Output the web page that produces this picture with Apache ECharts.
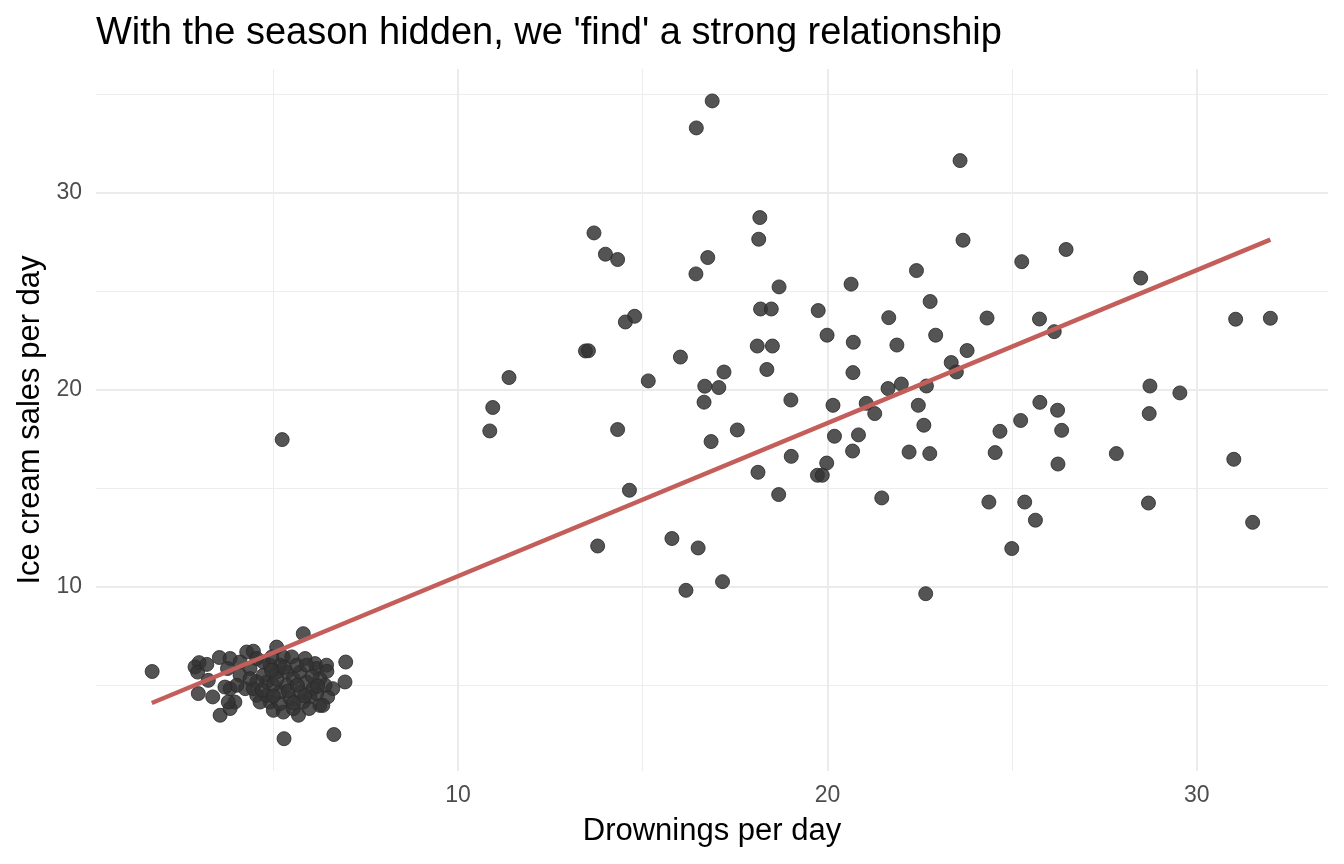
<!DOCTYPE html>
<html>
<head>
<meta charset="utf-8">
<title>Drownings vs ice cream</title>
<script src="https://cdn.jsdelivr.net/npm/echarts@6/dist/echarts.min.js"></script>
<style>
  html, body { margin: 0; padding: 0; background: #fff; }
  #main { width: 1344px; height: 864px; }
</style>
</head>
<body>
<div id="main"></div>
<script>
// warm days
var summerX = [16.88,16.45,18.17,18.14,13.68,13.99,14.32,16.76,16.44,18.69,18.19,18.48,19.75,14.78,14.53,18.10,18.51,13.45,13.53,16.02,
  18.36,17.20,11.38,15.15,16.68,17.06,19.01,16.66,10.94,10.86,14.32,17.56,16.85,19.02,18.12,19.73,18.68,14.64,13.78,15.79,
  16.50,17.16,16.17,23.59,23.67,25.26,22.41,20.64,22.78,21.66,24.32,25.74,19.99,22.93,20.70,21.88,23.78,23.35,23.49,20.69,
  22.68,22.00,21.64,20.15,21.05,22.46,21.28,25.75,25.23,22.61,20.19,20.84,24.67,22.21,22.77,20.68,24.54,19.98,19.86,21.47,
  24.37,25.34,25.63,24.99,22.66,26.46,28.48,26.14,31.05,31.99,28.73,29.54,26.23,26.34,28.71,27.82,26.24,31.00,28.69,31.51];
var summerY = [34.65,33.28,28.73,27.63,27.95,26.87,26.60,26.70,25.87,25.21,24.09,24.09,24.01,23.72,23.43,22.21,22.21,21.96,21.97,21.65,
  21.02,20.89,20.61,20.44,20.17,20.10,19.47,19.36,19.09,17.90,17.97,17.95,17.36,16.61,15.80,15.65,14.67,14.89,12.06,12.44,
  11.96,10.25,9.81,31.62,27.58,26.49,26.04,25.35,24.47,23.65,23.63,23.58,22.76,22.76,22.40,22.26,21.98,21.37,20.89,20.86,
  20.18,20.28,20.05,19.20,19.30,19.20,18.78,19.35,18.43,18.19,17.63,17.70,17.88,16.83,16.75,16.88,16.80,16.27,15.65,14.50,
  14.29,14.29,13.37,11.93,9.64,27.11,25.66,22.94,23.57,23.62,20.18,19.83,18.95,17.93,18.78,16.75,16.22,16.46,14.24,13.26];

// cold days
var winterX = [5.24,1.72,2.99,2.88,2.95,3.24,2.97,3.36,3.56,3.54,3.83,3.76,3.83,3.96,3.83,4.28,4.46,4.10,4.37,4.10,
  4.24,4.55,4.82,4.91,5.00,5.09,5.27,5.50,5.81,5.86,6.13,6.17,6.96,6.94,6.61,6.47,6.26,5.68,5.27,5.29,
  6.64,5.36,5.54,5.72,5.90,6.08,5.99,5.72,5.45,5.18,5.00,4.73,4.55,4.46,4.64,5.09,5.18,4.91,4.73,4.55,
  4.96,6.26,6.40,6.17,5.81,5.54,5.18,4.82,5.36,5.63,5.90,4.01,3.69,4.37,6.44,6.34,5.97,3.78,5.40,5.65,
  5.85,6.05,5.10,4.95,5.55,6.20,4.70,5.30,3.20,6.45,5.00];
var winterY = [17.46,5.69,6.14,5.92,5.66,5.24,4.57,4.40,3.47,6.40,6.35,5.84,4.82,4.14,3.81,6.68,6.72,6.17,5.84,5.50,
  4.82,4.48,5.16,4.14,3.72,6.93,6.43,6.43,7.61,6.35,6.09,5.84,6.17,5.16,4.82,4.40,3.97,3.47,3.63,2.28,
  2.49,5.66,5.33,5.66,5.16,4.82,4.40,4.65,4.31,4.65,4.99,5.50,5.16,4.82,4.14,5.66,6.01,6.01,6.17,6.35,
  6.43,5.33,4.99,4.57,4.14,3.81,4.06,4.48,4.99,6.01,6.01,4.99,4.90,5.33,6.01,3.97,3.81,4.14,4.70,5.00,
  4.45,5.45,5.30,5.75,4.10,4.95,4.75,5.90,6.05,5.70,4.45];

// fitted line ends
var fitX = [1.71, 31.99];
var fitY = [4.09, 27.61];

var majorX = [10, 20, 30];
var minorX = [5, 15, 25];
var majorY = [10, 20, 30];
var minorY = [5, 15, 25, 35];

function pairs(xs, ys) {
    var out = [];
    for (var i = 0; i < xs.length; i++) {
        out.push([xs[i], ys[i]]);
    }
    return out;
}

var points = pairs(summerX, summerY).concat(pairs(winterX, winterY));
var fit = pairs(fitX, fitY);

var font = 'Liberation Sans';
var xRange = [0.2, 33.55];
var yRange = [0.64, 36.27];

var myChart = echarts.init(document.getElementById('main'));
var option = {
    backgroundColor: '#ffffff',
    animation: false,
    textStyle: { fontFamily: font },
    title: {
        text: "With the season hidden, we 'find' a strong relationship",
        left: 96,
        top: 15,
        padding: 0,
        textStyle: { fontFamily: font, fontSize: 38, fontWeight: 'normal', color: '#000000' }
    },
    grid: { left: 96, right: 16, top: 69, bottom: 93 },
    xAxis: [{
        type: 'value',
        min: xRange[0],
        max: xRange[1],
        name: 'Drownings per day',
        nameLocation: 'middle',
        nameGap: 45,
        nameTextStyle: { fontFamily: font, fontSize: 31, color: '#000000' },
        axisLine: { show: false },
        axisTick: { show: false, customValues: majorX },
        axisLabel: { customValues: majorX, fontFamily: font, fontSize: 23, color: '#4d4d4d', margin: 13 },
        splitLine: { show: true, customValues: majorX, lineStyle: { color: '#ebebeb', width: 2 } }
    }, {
        type: 'value',
        min: xRange[0],
        max: xRange[1],
        axisLine: { show: false },
        axisTick: { show: false, customValues: minorX },
        axisLabel: { show: false, customValues: minorX },
        splitLine: { show: true, customValues: minorX, lineStyle: { color: '#ededed', width: 1 } }
    }],
    yAxis: [{
        type: 'value',
        min: yRange[0],
        max: yRange[1],
        name: 'Ice cream sales per day',
        nameLocation: 'middle',
        nameGap: 49,
        nameTextStyle: { fontFamily: font, fontSize: 31, color: '#000000' },
        axisLine: { show: false },
        axisTick: { show: false, customValues: majorY },
        axisLabel: { customValues: majorY, fontFamily: font, fontSize: 23, color: '#4d4d4d', margin: 14 },
        splitLine: { show: true, customValues: majorY, lineStyle: { color: '#ebebeb', width: 2 } }
    }, {
        type: 'value',
        min: yRange[0],
        max: yRange[1],
        axisLine: { show: false },
        axisTick: { show: false, customValues: minorY },
        axisLabel: { show: false, customValues: minorY },
        splitLine: { show: true, customValues: minorY, lineStyle: { color: '#ededed', width: 1 } }
    }],
    series: [{
        type: 'scatter',
        data: points,
        symbolSize: 14,
        itemStyle: { color: '#333333', opacity: 0.84, borderColor: '#2b2b2b', borderWidth: 1 },
        z: 2
    }, {
        type: 'line',
        data: fit,
        showSymbol: false,
        symbol: 'none',
        lineStyle: { color: '#c45e5b', width: 4.5 },
        z: 3
    }]
};
myChart.setOption(option);
</script>
</body>
</html>
